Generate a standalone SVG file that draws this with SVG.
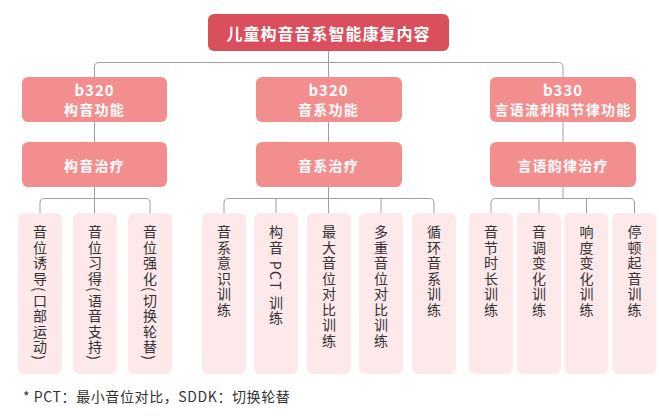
<svg xmlns="http://www.w3.org/2000/svg" width="659" height="416" viewBox="0 0 659 416">
<style>
text{font-family:"Noto Sans CJK SC","Noto Sans",sans-serif}
.title{fill:#d94f5b}
.mid{fill:#f28e8e}
.leaf{fill:#fde9ea}
.wt{fill:#fff;font-weight:bold;text-anchor:middle;dominant-baseline:central}
.t2{font-size:14px;letter-spacing:1.2px}
.lt{fill:#333;font-size:14px;writing-mode:vertical-rl;letter-spacing:1.5px}
.ln{fill:none;stroke:#9e9e9e;stroke-width:1}
</style>
<rect width="659" height="416" fill="#fff"/>
<g id="connectors" class="ln">
<path d="M328.5,51 V77"/>
<path d="M94.5,77 V67 Q94.5,62.5 99,62.5 H558.5 Q563,62.5 563,67 V77"/>
<path d="M94.5,122 V142 M328.5,122 V142 M563,122 V142"/>
<path d="M94.5,187 V213 M40,213 V203 Q40,198.5 44.5,198.5 H145.5 Q150,198.5 150,203 V213"/>
<path d="M328.5,187 V213 M224,213 V203 Q224,198.5 228.5,198.5 H429.5 Q434,198.5 434,203 V213 M276,198.5 V213 M381,198.5 V213"/>
<path d="M563,187 V198.5 M491,213 V203 Q491,198.5 495.5,198.5 H630 Q634.5,198.5 634.5,203 V213 M539,198.5 V213 M586.5,198.5 V213"/>
</g>
<g id="root">
<rect class="title" x="208" y="14" width="241" height="37" rx="6"/>
<text class="wt" x="328.5" y="33" font-size="16" letter-spacing="1">儿童构音音系智能康复内容</text>
</g>
<g id="b320a">
<rect class="mid" x="22" y="77" width="145" height="45" rx="6"/>
<text class="wt" x="94.5" y="89.5" font-size="15" letter-spacing="1">b320</text>
<text class="wt t2" x="94.5" y="108.5">构音功能</text>
</g>
<g id="b320b">
<rect class="mid" x="256" y="77" width="146" height="45" rx="6"/>
<text class="wt" x="328.5" y="89.5" font-size="15" letter-spacing="1">b320</text>
<text class="wt t2" x="328.5" y="108.5">音系功能</text>
</g>
<g id="b330">
<rect class="mid" x="490" y="77" width="146" height="45" rx="6"/>
<text class="wt" x="563" y="89.5" font-size="15" letter-spacing="1">b330</text>
<text class="wt t2" x="563" y="108.5">言语流利和节律功能</text>
</g>
<g id="t1">
<rect class="mid" x="22" y="142" width="145" height="45" rx="6"/>
<text class="wt t2" x="94.5" y="164.5">构音治疗</text>
</g>
<g id="t2">
<rect class="mid" x="256" y="142" width="146" height="45" rx="6"/>
<text class="wt t2" x="328.5" y="164.5">音系治疗</text>
</g>
<g id="t3">
<rect class="mid" x="490" y="142" width="146" height="45" rx="6"/>
<text class="wt t2" x="563" y="164.5">言语韵律治疗</text>
</g>
<g id="l1"><rect class="leaf" x="18" y="213" width="44" height="161" rx="6"/><text class="lt" x="40" y="225">音位诱导(口部运动)</text></g>
<g id="l2"><rect class="leaf" x="73" y="213" width="44" height="161" rx="6"/><text class="lt" x="95" y="225">音位习得(语音支持)</text></g>
<g id="l3"><rect class="leaf" x="128" y="213" width="44" height="161" rx="6"/><text class="lt" x="150" y="225">音位强化(切换轮替)</text></g>
<g id="l4"><rect class="leaf" x="202" y="213" width="44" height="161" rx="6"/><text class="lt" x="224" y="225">音系意识训练</text></g>
<g id="l5"><rect class="leaf" x="254" y="213" width="44" height="161" rx="6"/><text class="lt" x="276" y="225">构音 PCT 训练</text></g>
<g id="l6"><rect class="leaf" x="307" y="213" width="44" height="161" rx="6"/><text class="lt" x="329" y="225">最大音位对比训练</text></g>
<g id="l7"><rect class="leaf" x="359" y="213" width="44" height="161" rx="6"/><text class="lt" x="381" y="225">多重音位对比训练</text></g>
<g id="l8"><rect class="leaf" x="412" y="213" width="44" height="161" rx="6"/><text class="lt" x="434" y="225">循环音系训练</text></g>
<g id="l9"><rect class="leaf" x="469" y="213" width="44" height="161" rx="6"/><text class="lt" x="491" y="225">音节时长训练</text></g>
<g id="l10"><rect class="leaf" x="517" y="213" width="44" height="161" rx="6"/><text class="lt" x="539" y="225">音调变化训练</text></g>
<g id="l11"><rect class="leaf" x="564.5" y="213" width="44" height="161" rx="6"/><text class="lt" x="586.5" y="225">响度变化训练</text></g>
<g id="l12"><rect class="leaf" x="612.5" y="213" width="44" height="161" rx="6"/><text class="lt" x="634.5" y="225">停顿起音训练</text></g>
<text x="23" y="402" font-size="14" letter-spacing="0.6" fill="#333">* PCT：最小音位对比，SDDK：切换轮替</text>
</svg>
